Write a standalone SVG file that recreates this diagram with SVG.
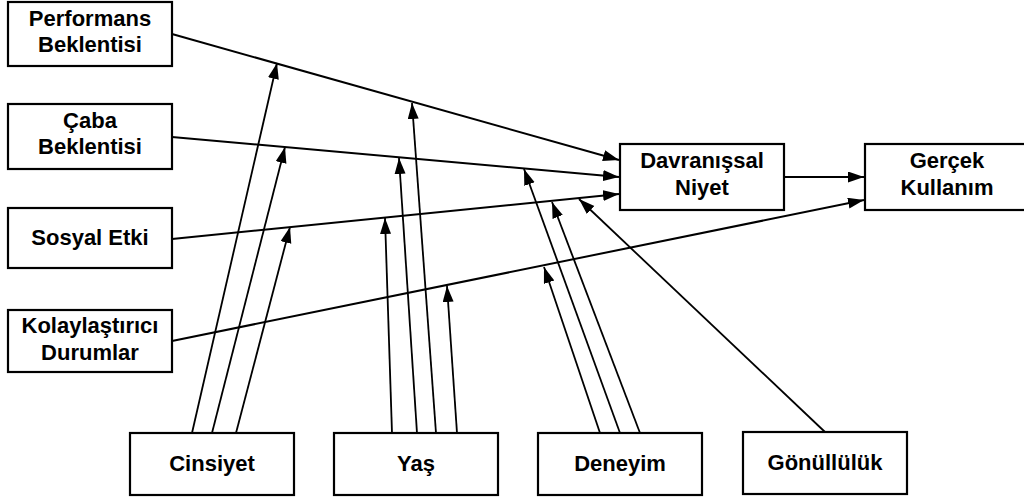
<svg xmlns="http://www.w3.org/2000/svg" width="1024" height="499" viewBox="0 0 1024 499">
<style>
.box{fill:#fff;stroke:#000;stroke-width:2.2}
.t{font-family:"Liberation Sans",Arial,sans-serif;font-weight:bold;font-size:22px;text-anchor:middle;fill:#000}
.c{stroke:#000;stroke-width:2;fill:none;marker-end:url(#ah)}
.m{stroke:#000;stroke-width:1.8;fill:none;marker-end:url(#ah)}
</style>
<defs>
<marker id="ah" markerUnits="userSpaceOnUse" markerWidth="17" markerHeight="12" refX="16" refY="5.5" orient="auto">
<path d="M0,0 L16,5.5 L0,11 z" fill="#000"/>
</marker>
</defs>
<rect width="1024" height="499" fill="#fff"/>
<g id="connectors">
<line class="c" x1="172" y1="34" x2="619" y2="160"/>
<line class="c" x1="172" y1="137" x2="619" y2="177"/>
<line class="c" x1="172" y1="239" x2="619" y2="194"/>
<line class="c" x1="172" y1="341" x2="864" y2="200"/>
<line class="c" x1="784" y1="177" x2="864" y2="177"/>
<line class="m" x1="192" y1="433" x2="277" y2="63"/>
<line class="m" x1="212" y1="433" x2="285" y2="147"/>
<line class="m" x1="236" y1="433" x2="290" y2="227"/>
<line class="m" x1="392" y1="433" x2="385" y2="218"/>
<line class="m" x1="417" y1="433" x2="399" y2="158"/>
<line class="m" x1="436" y1="433" x2="412" y2="103"/>
<line class="m" x1="457" y1="433" x2="447" y2="286"/>
<line class="m" x1="600" y1="433" x2="544" y2="267"/>
<line class="m" x1="620" y1="433" x2="524" y2="169"/>
<line class="m" x1="640" y1="433" x2="552" y2="202"/>
<line class="m" x1="825" y1="432" x2="579" y2="199"/>
</g>
<g id="performans"><rect class="box" x="8" y="2" width="164" height="64"/><text class="t" x="90" y="26">Performans</text><text class="t" x="90" y="52">Beklentisi</text></g>
<g id="caba"><rect class="box" x="8" y="104" width="164" height="65"/><text class="t" x="90" y="128">Çaba</text><text class="t" x="90" y="154">Beklentisi</text></g>
<g id="sosyal"><rect class="box" x="8" y="208" width="164" height="60"/><text class="t" x="90" y="245">Sosyal Etki</text></g>
<g id="kolaylastirici"><rect class="box" x="8" y="310" width="164" height="62"/><text class="t" x="90" y="333">Kolaylaştırıcı</text><text class="t" x="90" y="360">Durumlar</text></g>
<g id="niyet"><rect class="box" x="620" y="144" width="164" height="66"/><text class="t" x="702" y="168">Davranışsal</text><text class="t" x="702" y="195">Niyet</text></g>
<g id="kullanim"><rect class="box" x="865" y="144" width="166" height="66"/><text class="t" x="947" y="168">Gerçek</text><text class="t" x="947" y="195">Kullanım</text></g>
<g id="cinsiyet"><rect class="box" x="130" y="433" width="164" height="62"/><text class="t" x="212" y="471">Cinsiyet</text></g>
<g id="yas"><rect class="box" x="334" y="433" width="164" height="62"/><text class="t" x="416" y="471">Yaş</text></g>
<g id="deneyim"><rect class="box" x="538" y="433" width="164" height="62"/><text class="t" x="620" y="471">Deneyim</text></g>
<g id="gonulluluk"><rect class="box" x="743" y="432" width="164" height="62"/><text class="t" x="825" y="470">Gönüllülük</text></g>
</svg>
